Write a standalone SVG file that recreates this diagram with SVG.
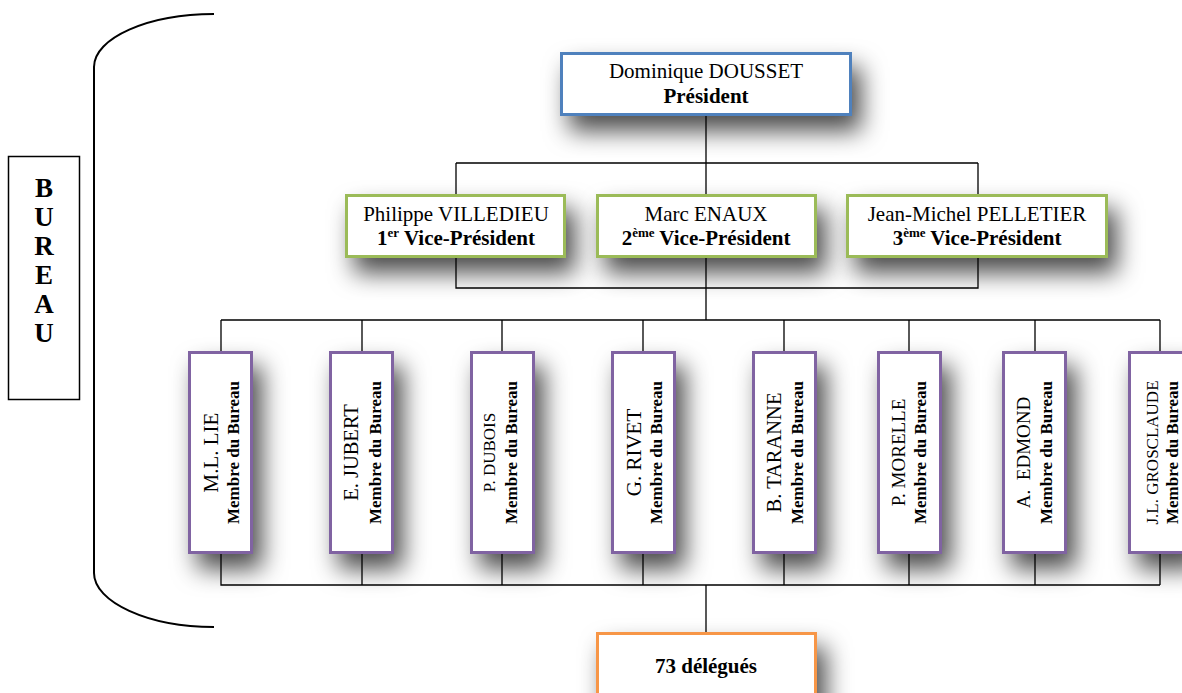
<svg xmlns="http://www.w3.org/2000/svg" width="1182" height="693" viewBox="0 0 1182 693">
<style>
  text { font-family: "Liberation Serif", "Times New Roman", serif; fill: #000; }
  .nm { font-size: 21px; text-anchor: middle; }
  .bd { font-size: 21px; font-weight: bold; text-anchor: middle; }
  .mb { font-size: 17px; font-weight: bold; text-anchor: middle; }
  .bu { font-size: 27px; font-weight: bold; text-anchor: middle; }
  .box { fill: #fff; stroke-width: 3; filter: url(#sh); }
  .pres { stroke: #4F81BD; }
  .vp { stroke: #9BBB59; }
  .mem { stroke: #8064A2; }
  .del { stroke: #F79646; }
  .ln { stroke: #000; stroke-width: 1.3; fill: none; }
</style>
<defs>
  <filter id="sh" x="-60%" y="-60%" width="230%" height="230%">
    <feDropShadow dx="9" dy="15" stdDeviation="12" flood-color="#000" flood-opacity="0.7"/>
  </filter>
</defs>
<rect x="0" y="0" width="1182" height="693" fill="#fff"/>

<g id="bracket">
  <path d="M214,14 C148,14 94,38 94,67 L94,573 C94,602 148,627 214,627" fill="none" stroke="#000" stroke-width="2"/>
</g>
<g id="bureau">
  <rect x="8.5" y="156.5" width="71" height="243" fill="#fff" stroke="#000" stroke-width="1.5"/>
  <text class="bu" x="44" y="197">B</text>
  <text class="bu" x="44" y="226">U</text>
  <text class="bu" x="44" y="255">R</text>
  <text class="bu" x="44" y="284">E</text>
  <text class="bu" x="44" y="313">A</text>
  <text class="bu" x="44" y="342">U</text>
</g>

<g id="president">
  <rect class="box pres" x="561.5" y="53.5" width="289" height="61"/>
  <text class="nm" x="706" y="78">Dominique DOUSSET</text>
  <text class="bd" x="706" y="103">Président</text>
</g>

<g id="vp1">
  <rect class="box vp" x="346.5" y="195.5" width="218" height="61"/>
  <text class="nm" x="456" y="221">Philippe VILLEDIEU</text>
  <text class="bd" x="456" y="245">1<tspan font-size="13" dy="-8">er</tspan><tspan dy="8"> Vice-Président</tspan></text>
</g>
<g id="vp2">
  <rect class="box vp" x="597.5" y="195.5" width="218" height="61"/>
  <text class="nm" x="706" y="221">Marc ENAUX</text>
  <text class="bd" x="706" y="245">2<tspan font-size="13" dy="-8">ème</tspan><tspan dy="8"> Vice-Président</tspan></text>
</g>
<g id="vp3">
  <rect class="box vp" x="847.5" y="195.5" width="259" height="61"/>
  <text class="nm" x="977" y="221">Jean-Michel PELLETIER</text>
  <text class="bd" x="977" y="245">3<tspan font-size="13" dy="-8">ème</tspan><tspan dy="8"> Vice-Président</tspan></text>
</g>

<g id="m1">
  <rect class="box mem" x="189.5" y="352.5" width="62" height="200"/>
  <g transform="translate(221,452.5) rotate(-90)"><text class="nm" x="0" y="-3">M.L. LIE</text><text class="mb" x="0" y="18">Membre du Bureau</text></g>
</g>
<g id="m2">
  <rect class="box mem" x="330.5" y="352.5" width="62" height="200"/>
  <g transform="translate(362,452.5) rotate(-90)"><text class="nm" x="0" y="-4" style="font-size:20.5px">E. JUBERT</text><text class="mb" x="0" y="19">Membre du Bureau</text></g>
</g>
<g id="m3">
  <rect class="box mem" x="471.5" y="352.5" width="62" height="200"/>
  <g transform="translate(502,452.5) rotate(-90)"><text class="nm" x="0" y="-7" style="font-size:17px">P. DUBOIS</text><text class="mb" x="0" y="15">Membre du Bureau</text></g>
</g>
<g id="m4">
  <rect class="box mem" x="612.5" y="352.5" width="62" height="200"/>
  <g transform="translate(643,452.5) rotate(-90)"><text class="nm" x="0" y="-2">G. RIVET</text><text class="mb" x="0" y="19">Membre du Bureau</text></g>
</g>
<g id="m5">
  <rect class="box mem" x="753.5" y="352.5" width="62" height="200"/>
  <g transform="translate(784,452.5) rotate(-90)"><text class="nm" x="0" y="-3" style="font-size:20.5px">B. TARANNE</text><text class="mb" x="0" y="19">Membre du Bureau</text></g>
</g>
<g id="m6">
  <rect class="box mem" x="878.5" y="352.5" width="62" height="200"/>
  <g transform="translate(909,452.5) rotate(-90)"><text class="nm" x="0" y="-4" style="font-size:19px">P. MORELLE</text><text class="mb" x="0" y="17">Membre du Bureau</text></g>
</g>
<g id="m7">
  <rect class="box mem" x="1003.5" y="352.5" width="62" height="200"/>
  <g transform="translate(1035,452.5) rotate(-90)"><text class="nm" x="0" y="-5" style="font-size:19px">A.&#160; EDMOND</text><text class="mb" x="0" y="17">Membre du Bureau</text></g>
</g>
<g id="m8">
  <rect class="box mem" x="1129.5" y="352.5" width="62" height="200"/>
  <g transform="translate(1160,452.5) rotate(-90)"><text class="nm" x="0" y="-2" style="font-size:17px">J.L. GROSCLAUDE</text><text class="mb" x="0" y="18">Membre du Bureau</text></g>
</g>

<g id="delegues">
  <rect class="box del" x="597.5" y="633.5" width="218" height="90"/>
  <text class="bd" x="706" y="673">73 délégués</text>
</g>

<g id="connectors" class="ln">
  <path class="ln" d="M706,116 V163 M456,163 H978 M456,163 V194 M706,163 V194 M978,163 V194"/>
  <path class="ln" d="M456,258 V288 H978 V258 M706,258 V320"/>
  <path class="ln" d="M221,320 H1160 M221,320 V351 M362,320 V351 M502,320 V351 M643,320 V351 M784,320 V351 M909,320 V351 M1035,320 V351 M1160,320 V351"/>
  <path class="ln" d="M221,554 V585 H1160 M362,554 V585 M502,554 V585 M643,554 V585 M784,554 V585 M909,554 V585 M1035,554 V585 M1160,554 V585 M706,585 V632"/>
</g>
</svg>
